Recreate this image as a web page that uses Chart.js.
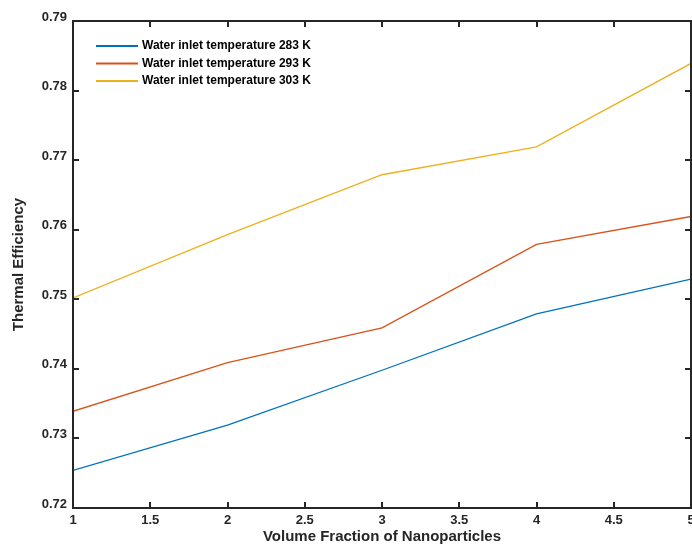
<!DOCTYPE html>
<html>
<head>
<meta charset="utf-8">
<script src="https://cdn.jsdelivr.net/npm/chart.js@4.4.1/dist/chart.umd.min.js"></script>
<style>
  html, body { margin: 0; padding: 0; background: #ffffff; }
  #wrap { width: 692px; height: 546px; }
</style>
</head>
<body>
<div id="wrap"><canvas id="efficiencyChart" width="692" height="546"></canvas></div>
<script>
// ---- data ----
const volumeFraction = [1, 2, 3, 4, 5];
const eff283 = [0.7254, 0.7319, 0.7398, 0.7479, 0.7529];
const eff293 = [0.7339, 0.7409, 0.7459, 0.7579, 0.7619];
const eff303 = [0.7502, 0.7593, 0.7679, 0.7719, 0.7839];
const seriesLabels = [
    "Water inlet temperature 283 K",
    "Water inlet temperature 293 K",
    "Water inlet temperature 303 K"
];
const seriesColors = ["#0072BD", "#D95319", "#EDB120"];

const axisColor = "#262626";
const fontFamily = "'Liberation Sans', Arial, Helvetica, sans-serif";

function toPoints(values) {
    return volumeFraction.map((x, i) => ({ x: x, y: values[i] }));
}

// MATLAB style box with inward ticks on all four sides
const boxTicks = {
    id: "boxTicks",
    afterDatasetsDraw(chart) {
        const ctx = chart.ctx;
        const area = chart.chartArea;
        const xs = chart.scales.x;
        const ys = chart.scales.y;
        const len = 6;
        ctx.save();
        ctx.strokeStyle = axisColor;
        ctx.lineWidth = 2;
        ctx.beginPath();
        xs.ticks.forEach((t) => {
            const px = Math.round(xs.getPixelForValue(t.value));
            ctx.moveTo(px, area.bottom);
            ctx.lineTo(px, area.bottom - len);
            ctx.moveTo(px, area.top);
            ctx.lineTo(px, area.top + len);
        });
        ys.ticks.forEach((t) => {
            const py = Math.round(ys.getPixelForValue(t.value));
            ctx.moveTo(area.left, py);
            ctx.lineTo(area.left + len, py);
            ctx.moveTo(area.right, py);
            ctx.lineTo(area.right - len, py);
        });
        ctx.stroke();
        ctx.strokeRect(area.left, area.top, area.right - area.left, area.bottom - area.top);
        ctx.restore();
    }
};

// legend drawn inside the axes, top-left, like the original
const innerLegend = {
    id: "innerLegend",
    afterDraw(chart) {
        const ctx = chart.ctx;
        const area = chart.chartArea;
        const x0 = area.left + 23;
        const y0 = area.top + 25;
        const rowGap = 17.5;
        ctx.save();
        ctx.font = "bold 12px " + fontFamily;
        ctx.textBaseline = "middle";
        ctx.fillStyle = "#000000";
        chart.data.datasets.forEach((ds, i) => {
            const y = y0 + i * rowGap;
            ctx.strokeStyle = ds.borderColor;
            ctx.lineWidth = 2;
            ctx.beginPath();
            ctx.moveTo(x0, y);
            ctx.lineTo(x0 + 42, y);
            ctx.stroke();
            ctx.fillText(ds.label, x0 + 46, y);
        });
        ctx.restore();
    }
};

const datasets = [eff283, eff293, eff303].map((vals, i) => ({
    label: seriesLabels[i],
    data: toPoints(vals),
    borderColor: seriesColors[i],
    backgroundColor: seriesColors[i],
    borderWidth: 1.3,
    pointRadius: 0,
    tension: 0,
    fill: false
}));

new Chart(document.getElementById("efficiencyChart"), {
    type: "line",
    data: { datasets: datasets },
    options: {
        responsive: false,
        animation: false,
        layout: { padding: { top: 21, right: 1, left: 0, bottom: 0 } },
        plugins: {
            legend: { display: false },
            tooltip: { enabled: false }
        },
        scales: {
            x: {
                type: "linear",
                min: 1,
                max: 5,
                grid: { display: false, drawTicks: false },
                border: { display: false },
                ticks: {
                    stepSize: 0.5,
                    padding: 5,
                    color: axisColor,
                    font: { family: fontFamily, size: 13, weight: "bold" },
                    maxRotation: 0,
                    autoSkip: false,
                    callback: (v) => String(Math.round(v * 10) / 10)
                },
                title: {
                    display: true,
                    text: "Volume Fraction of Nanoparticles",
                    color: axisColor,
                    font: { family: fontFamily, size: 15, weight: "bold" },
                    padding: { top: 0, bottom: 0 }
                },
                afterFit(scale) {
                    scale.height = 38;
                    scale.paddingLeft = 0;
                    scale.paddingRight = 0;
                }
            },
            y: {
                min: 0.72,
                max: 0.79,
                grid: { display: false, drawTicks: false },
                border: { display: false },
                ticks: {
                    stepSize: 0.01,
                    padding: 6,
                    labelOffset: -4,
                    color: axisColor,
                    font: { family: fontFamily, size: 13, weight: "bold" },
                    callback: (v) => v.toFixed(2)
                },
                title: {
                    display: true,
                    text: "Thermal Efficiency",
                    color: axisColor,
                    font: { family: fontFamily, size: 15, weight: "bold" },
                    padding: { top: 10, bottom: 0 }
                },
                afterFit(scale) {
                    scale.width = 73;
                    scale.paddingTop = 0;
                    scale.paddingBottom = 0;
                }
            }
        }
    },
    plugins: [boxTicks, innerLegend]
});
</script>
</body>
</html>
